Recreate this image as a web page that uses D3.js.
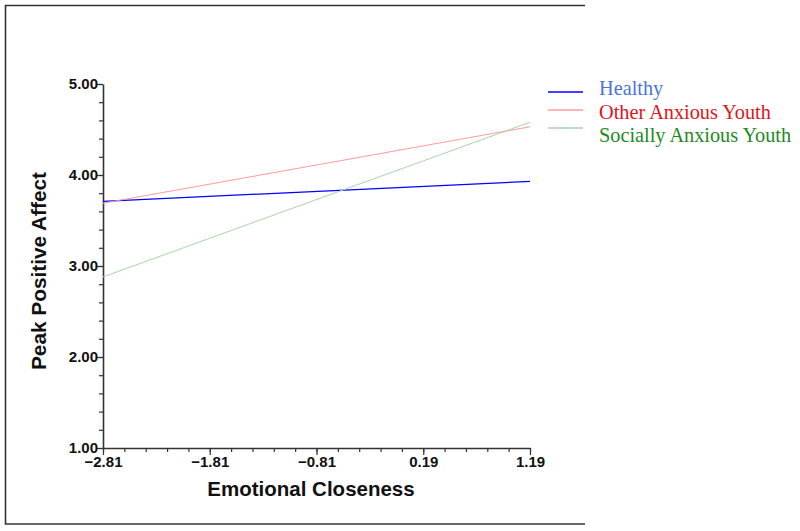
<!DOCTYPE html>
<html><head><meta charset="utf-8">
<script src="https://cdn.jsdelivr.net/npm/d3@7"></script>
<style>body{margin:0;background:#fff}svg{display:block}</style>
</head><body>
<script>
const xTicks = [-2.81, -1.81, -0.81, 0.19, 1.19];
const yTicks = [1, 2, 3, 4, 5];
const seriesNames = ["Healthy", "Other Anxious Youth", "Socially Anxious Youth"];
const healthy = [3.71, 3.93];
const otherAnxious = [3.69, 4.53];
const sociallyAnxious = [2.88, 4.58];
const lineColors = ["#0000ff", "#ff9a9a", "#a9d6a9"];
const textColors = ["#4a74d8", "#e0141c", "#1e8a1e"];

const W = 800, H = 531;
const svg = d3.select("body").append("svg").attr("width", W).attr("height", H);

// frame
svg.append("path").attr("d", "M585,5.5 H5.5 V524 H585").attr("fill", "none")
  .attr("stroke", "#333").attr("stroke-width", 1.6);

const x = d3.scaleLinear().domain([-2.81, 1.19]).range([103, 530]);
const y = d3.scaleLinear().domain([1, 5]).range([448, 84]);

// minor ticks
const xMinor = d3.range(0, 21).map(i => -2.81 + i * 0.2);
const yMinor = d3.range(0, 21).map(i => 1 + i * 0.2);
svg.append("g").attr("transform", "translate(0,448)")
  .call(d3.axisBottom(x).tickValues(xMinor).tickSize(4).tickFormat(""))
  .call(g => g.select(".domain").remove());
svg.append("g").attr("transform", "translate(103,0)")
  .call(d3.axisLeft(y).tickValues(yMinor).tickSize(4).tickFormat(""))
  .call(g => g.select(".domain").remove());

const xAxis = svg.append("g").attr("transform", "translate(0,448)")
  .call(d3.axisBottom(x).tickValues(xTicks).tickSize(7).tickSizeOuter(0).tickFormat(d3.format(".2f")));
const yAxis = svg.append("g").attr("transform", "translate(103,0)")
  .call(d3.axisLeft(y).tickValues(yTicks).tickSize(7).tickSizeOuter(0).tickFormat(d3.format(".2f")));
svg.selectAll(".domain").attr("stroke", "#333").attr("stroke-width", 1.6);
svg.selectAll(".tick line").attr("stroke", "#333").attr("stroke-width", 1.2);
[xAxis, yAxis].forEach(a => a.selectAll("text")
  .attr("font-family", "Liberation Sans, Arial, sans-serif").attr("font-weight", "bold")
  .attr("font-size", 15).attr("fill", "#111"));
xAxis.selectAll("text").attr("dy", "0.9em").attr("y", 5);
yAxis.selectAll("text").attr("x", -5).attr("dy", "0.32em");

// axis titles
svg.append("text").attr("x", 311).attr("y", 496).attr("text-anchor", "middle")
  .attr("font-family", "Liberation Sans, Arial, sans-serif").attr("font-weight", "bold")
  .attr("font-size", 20.5).attr("fill", "#111").text("Emotional Closeness");
svg.append("text").attr("transform", "translate(45.5,271) rotate(-90)").attr("text-anchor", "middle")
  .attr("font-family", "Liberation Sans, Arial, sans-serif").attr("font-weight", "bold")
  .attr("font-size", 20.8).attr("fill", "#111").text("Peak Positive Affect");

// lines
const series = [healthy, otherAnxious, sociallyAnxious];
const line = d3.line().x((d, i) => x(i === 0 ? -2.81 : 1.19)).y(d => y(d));
series.forEach((s, i) => {
  svg.append("path").datum(s).attr("d", line).attr("fill", "none")
    .attr("stroke", lineColors[i]).attr("stroke-width", i === 0 ? 1.3 : 1);
});

// legend
const lineYs = [92, 110, 128];
const textYs = [94.5, 118.5, 141.5];
seriesNames.forEach((n, i) => {
  svg.append("line").attr("x1", 548).attr("x2", 583).attr("y1", lineYs[i]).attr("y2", lineYs[i])
    .attr("stroke", lineColors[i]).attr("stroke-width", 1.5);
  svg.append("text").attr("x", 599).attr("y", textYs[i]).attr("font-family", "Liberation Serif, serif")
    .attr("font-size", 20.3).attr("fill", textColors[i]).text(n);
});
</script>
</body></html>
